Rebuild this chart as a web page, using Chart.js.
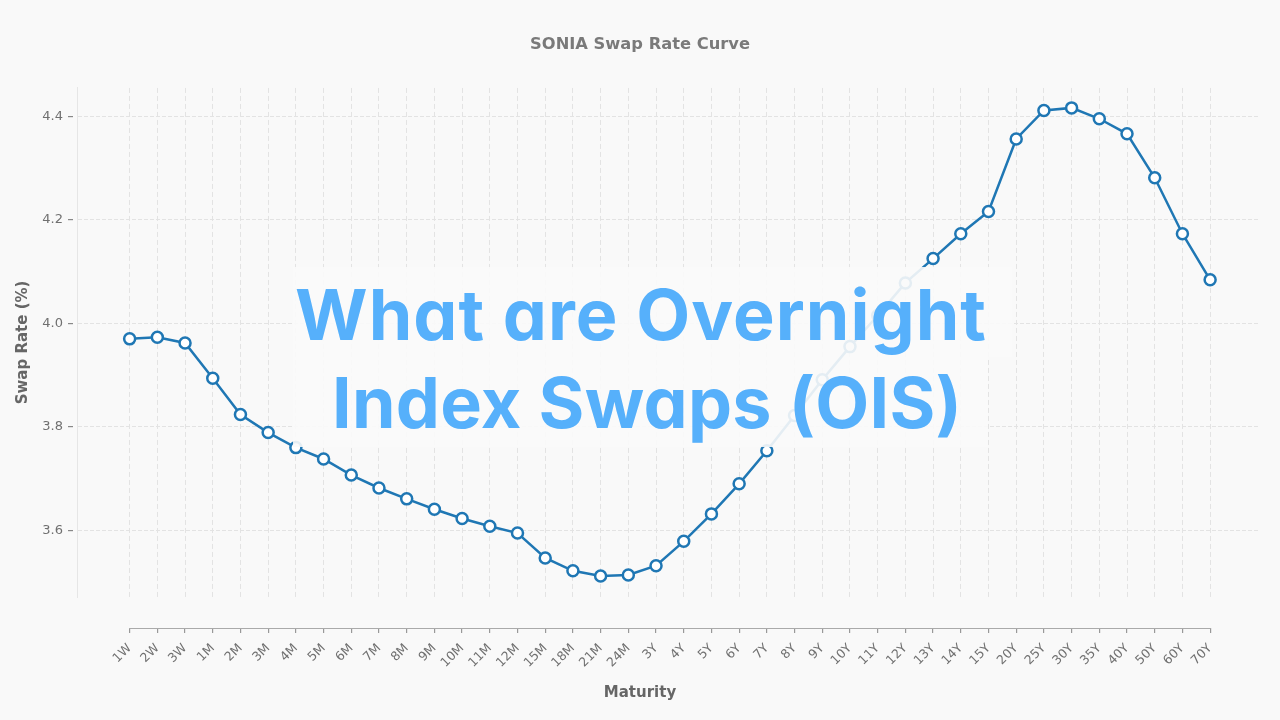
<!DOCTYPE html>
<html>
<head>
<meta charset="utf-8">
<script src="https://cdn.jsdelivr.net/npm/chart.js@4.4.1/dist/chart.umd.min.js"></script>
<style>
  html, body { margin:0; padding:0; background:#f9f9f9; }
  #wrap { position:relative; width:1280px; height:720px; overflow:hidden; background:#f9f9f9; }
  #c { position:absolute; left:0; top:0; }
  #overlay { position:absolute; left:0; top:0; width:1280px; height:720px; pointer-events:none; }
  .box { position:absolute; background:rgba(249,249,249,0.9); }
  .line { position:absolute; left:0; top:0; white-space:nowrap; font-family:Inter, "Open Sans", sans-serif; font-weight:700; font-size:70px; color:#56b0fb; line-height:1.2; font-feature-settings:"cv11" 1; }
</style>
</head>
<body>
<div id="wrap">
  <canvas id="c" width="1280" height="720"></canvas>
  <div id="overlay"></div>
</div>
<script>
const maturities = ['1W','2W','3W','1M','2M','3M','4M','5M','6M','7M','8M','9M','10M','11M','12M','15M','18M','21M','24M','3Y','4Y','5Y','6Y','7Y','8Y','9Y','10Y','11Y','12Y','13Y','14Y','15Y','20Y','25Y','30Y','35Y','40Y','50Y','60Y','70Y'];
const swapRates = [3.970,3.973,3.962,3.894,3.824,3.789,3.760,3.738,3.707,3.682,3.661,3.641,3.623,3.608,3.595,3.547,3.522,3.512,3.514,3.532,3.579,3.632,3.690,3.754,3.822,3.891,3.955,4.015,4.078,4.125,4.173,4.216,4.356,4.411,4.416,4.395,4.366,4.281,4.173,4.084];
const yTickValues = [3.6, 3.8, 4.0, 4.2, 4.4];
const chartTitle = 'SONIA Swap Rate Curve';
const xTitle = 'Maturity';
const yTitle = 'Swap Rate (%)';
const headline = ['What are Overnight', 'Index Swaps (OIS)'];

const X_MIN = -1.9, X_MAX = 40.8;
const Y_MIN = 3.4715, Y_MAX = 4.4545;
const GRID = '#e3e3e3';
const TICK_FONT = { family: 'DejaVu Sans', size: 12.5 };

const points = swapRates.map((v, i) => ({ x: i, y: v }));
const xTickBuild = s => { s.ticks = maturities.map((_, i) => ({ value: i })); };
const yTickBuild = s => { s.ticks = yTickValues.map(v => ({ value: v })); };

const spinePlugin = {
  id: 'trimSpine',
  afterDraw(chart) {
    const s = chart.scales.x2;
    const ctx = chart.ctx;
    ctx.save();
    ctx.strokeStyle = '#aaaaaa';
    ctx.lineWidth = 1.2;
    ctx.beginPath();
    ctx.moveTo(s.getPixelForValue(0) - 0.6, s.top + 0.5);
    ctx.lineTo(s.getPixelForValue(maturities.length - 1) + 0.6, s.top + 0.5);
    ctx.stroke();
    ctx.restore();
  }
};

new Chart(document.getElementById('c'), {
  type: 'line',
  data: {
    datasets: [{
      data: points,
      xAxisID: 'x',
      yAxisID: 'y',
      borderColor: '#1f77b4',
      borderWidth: 2.5,
      tension: 0,
      pointRadius: 5.5,
      pointHoverRadius: 5.5,
      pointBorderWidth: 2.5,
      pointBackgroundColor: '#ffffff',
      pointBorderColor: '#1f77b4',
      clip: false
    }]
  },
  options: {
    responsive: false,
    animation: false,
    devicePixelRatio: 1,
    layout: { padding: { left: 0, right: 0, top: 0, bottom: 0 } },
    plugins: {
      legend: { display: false },
      tooltip: { enabled: false },
      title: {
        display: true,
        text: chartTitle,
        color: '#7a7a7a',
        font: { family: 'DejaVu Sans', size: 16.3, weight: 'bold', lineHeight: 1.2 },
        padding: { top: 35.2, bottom: 33.2 }
      },
      subtitle: {
        display: true,
        position: 'bottom',
        text: xTitle,
        color: '#666666',
        font: { family: 'DejaVu Sans', size: 15, weight: 'bold', lineHeight: 1.2 },
        padding: { top: 0, bottom: 18 }
      }
    },
    scales: {
      x: {
        type: 'linear', position: 'bottom', weight: 0,
        min: X_MIN, max: X_MAX,
        afterBuildTicks: xTickBuild,
        afterFit: s => { s.height = 31; },
        ticks: { display: false },
        grid: { drawOnChartArea: true, drawTicks: false, color: GRID, lineWidth: 1 },
        border: { display: false, dash: [5, 3] }
      },
      x2: {
        type: 'linear', position: 'bottom', weight: 1,
        min: X_MIN, max: X_MAX,
        afterBuildTicks: xTickBuild,
        afterFit: s => { s.height = 56; },
        ticks: {
          autoSkip: false, minRotation: 45, maxRotation: 45,
          color: '#707070', font: TICK_FONT, padding: 8,
          callback: v => maturities[v]
        },
        grid: { drawOnChartArea: false, drawTicks: true, tickLength: 5, tickColor: '#999999', lineWidth: 1.2 },
        border: { display: false }
      },
      y: {
        type: 'linear', position: 'left', weight: 0,
        min: Y_MIN, max: Y_MAX,
        afterBuildTicks: yTickBuild,
        afterFit: s => { s.width = 4; },
        ticks: { display: false },
        grid: { drawOnChartArea: true, drawTicks: false, color: GRID, lineWidth: 1 },
        border: { display: true, color: '#e6e6e6', width: 1, dash: [4, 2] }
      },
      y2: {
        type: 'linear', position: 'left', weight: 1,
        min: Y_MIN, max: Y_MAX,
        afterBuildTicks: yTickBuild,
        afterFit: s => { s.width = 73; },
        ticks: { color: '#707070', font: { family: 'DejaVu Sans', size: 13 }, padding: 5, callback: v => v.toFixed(1) },
        grid: { drawOnChartArea: false, drawTicks: true, tickLength: 5, tickColor: '#888888', lineWidth: 1.2 },
        border: { display: false },
        title: {
          display: true, text: yTitle, color: '#666666',
          font: { family: 'DejaVu Sans', size: 15, weight: 'bold', lineHeight: 1.2 },
          padding: { top: 14, bottom: 0 }
        }
      },
      yr: {
        type: 'linear', position: 'right', weight: 0,
        min: Y_MIN, max: Y_MAX,
        afterFit: s => { s.width = 20; },
        ticks: { display: false },
        grid: { display: false, drawOnChartArea: false, drawTicks: false },
        border: { display: false }
      }
    }
  },
  plugins: [spinePlugin]
});

// Headline overlay (real DOM text)
const overlay = document.getElementById('overlay');
const boxes = [
  { l: 293, t: 267, r: 1012, b: 357 },
  { l: 293, t: 357, r: 988, b: 447 }
];
boxes.forEach(b => {
  const d = document.createElement('div');
  d.className = 'box';
  d.style.left = b.l + 'px'; d.style.top = b.t + 'px';
  d.style.width = (b.r - b.l) + 'px'; d.style.height = (b.b - b.t) + 'px';
  overlay.appendChild(d);
});
const lineSpec = [
  { text: headline[0], left: 295, right: 986, baseline: 340 },
  { text: headline[1], left: 332, right: 962, baseline: 428 }
];
function placeLine(spec) {
  const d = document.createElement('div');
  d.className = 'line';
  const s = document.createElement('span');
  s.textContent = spec.text;
  const m = document.createElement('span');
  m.style.cssText = 'display:inline-block;width:0;height:0;vertical-align:baseline;';
  d.appendChild(s); d.appendChild(m);
  overlay.appendChild(d);
  const w0 = s.getBoundingClientRect().width;
  const n = spec.text.length;
  const target = spec.right - spec.left;
  const ls = (target - w0) / (n - 1);
  s.style.letterSpacing = ls + 'px';
  const base = m.offsetTop;
  d.style.left = spec.left + 'px';
  d.style.top = (spec.baseline - base) + 'px';
}
function layoutLines() { lineSpec.forEach(placeLine); }
if (document.fonts && document.fonts.ready) { document.fonts.ready.then(layoutLines); } else { layoutLines(); }
</script>
</body>
</html>
